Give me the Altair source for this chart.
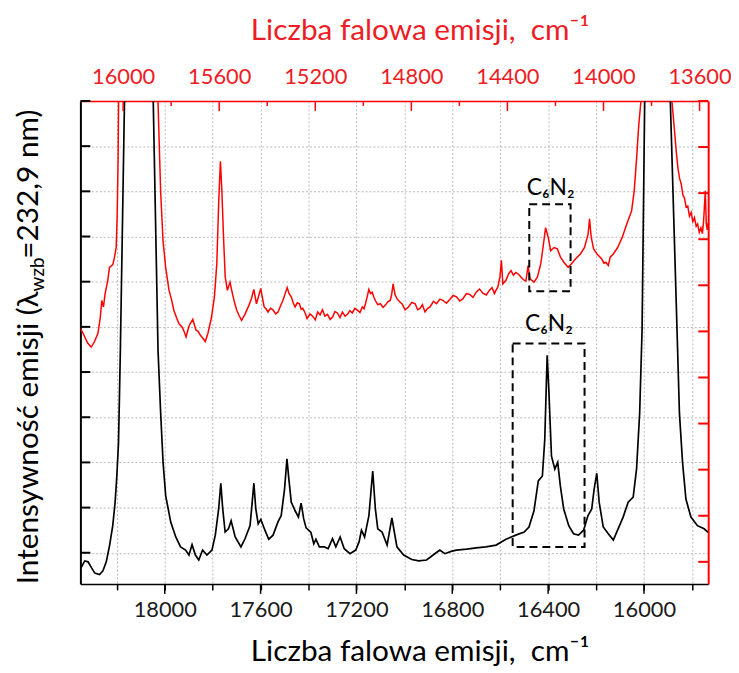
import altair as alt
import pandas as pd

# ---------------- data ----------------
# black spectrum, bottom axis (emission wavenumber, cm-1) vs intensity (left scale)
black_points = [
    (18350, -0.34), (18334, -0.18), (18320, -0.20), (18306, -0.33), (18292, -0.45), (18272, -0.48),
    (18258, -0.40), (18244, -0.20), (18230, 0.17), (18217, 0.60), (18207, 1.12), (18200, 1.70),
    (18193, 2.43), (18189, 3.46), (18185, 4.55), (18168, 10.0), (18110, 25.0), (18048, 10.0),
    (18028, 4.48), (18017, 3.09), (18007, 2.00), (17996, 1.26), (17975, 0.68), (17954, 0.35),
    (17934, 0.13), (17913, 0.06), (17899, -0.05), (17886, 0.18), (17872, -0.05), (17858, -0.16),
    (17842, 0.06), (17824, -0.05), (17803, 0.06), (17789, 0.39), (17775, 0.97), (17766, 1.54),
    (17758, 0.97), (17748, 0.46), (17734, 0.53), (17723, 0.71), (17706, 0.35), (17682, 0.13),
    (17665, 0.31), (17644, 0.60), (17635, 1.12), (17628, 1.54), (17620, 0.97), (17610, 0.64),
    (17599, 0.74), (17582, 0.50), (17566, 0.30), (17548, 0.39), (17527, 0.69), (17514, 0.82),
    (17500, 1.41), (17490, 2.08), (17482, 1.63), (17472, 1.12), (17456, 0.93), (17442, 0.79),
    (17431, 1.10), (17420, 0.75), (17410, 0.55), (17390, 0.45), (17378, 0.20), (17369, 0.30),
    (17355, 0.13), (17334, 0.13), (17318, 0.09), (17300, 0.31), (17286, 0.13), (17268, 0.35),
    (17251, 0.09), (17227, -0.02), (17203, 0.06), (17189, 0.24), (17179, 0.50), (17166, 0.35),
    (17148, 0.82), (17132, 1.81), (17121, 0.97), (17111, 0.53), (17093, 0.46), (17072, 0.17),
    (17052, 0.77), (17031, 0.13), (17003, -0.05), (16969, -0.15), (16940, -0.18), (16907, -0.16),
    (16880, -0.05), (16852, 0.06), (16831, -0.02), (16805, 0.03), (16783, 0.06), (16740, 0.08),
    (16700, 0.11), (16660, 0.13), (16617, 0.17), (16576, 0.30), (16535, 0.39), (16500, 0.46),
    (16480, 0.57), (16459, 0.93), (16441, 1.59), (16424, 1.70), (16414, 2.51), (16404, 4.37),
    (16397, 3.60), (16386, 2.14), (16372, 1.85), (16360, 2.00), (16349, 1.48), (16335, 0.97),
    (16314, 0.60), (16294, 0.42), (16273, 0.39), (16252, 0.50), (16234, 0.82), (16218, 0.97),
    (16208, 1.41), (16197, 1.76), (16187, 1.12), (16170, 0.57), (16149, 0.42), (16128, 0.28),
    (16108, 0.53), (16087, 0.79), (16066, 1.12), (16045, 1.23), (16031, 1.85), (16018, 3.09),
    (16008, 4.92), (15997, 10.0), (15943, 25.0), (15890, 10.0), (15862, 4.92), (15852, 3.09),
    (15839, 2.00), (15825, 1.19), (15804, 0.79), (15777, 0.60), (15749, 0.53), (15732, 0.45),
]

# red spectrum, top axis (emission wavenumber, cm-1) vs intensity (right scale)
red_points = [
    (16178, 5.06), (16167, 4.96), (16157, 4.85), (16147, 4.74), (16133, 4.66), (16119, 4.78),
    (16105, 4.96), (16095, 5.31), (16089, 5.67), (16082, 5.53), (16075, 5.82), (16064, 6.11),
    (16057, 6.39), (16043, 6.45), (16036, 6.61), (16029, 6.82), (16025, 7.47), (16021, 8.76),
    (16019, 10.0), (15933, 30.0), (15855, 10.0), (15844, 8.05), (15834, 6.97), (15823, 6.39),
    (15809, 5.89), (15799, 5.70), (15789, 5.46), (15778, 5.30), (15768, 5.17), (15754, 5.09),
    (15745, 4.98), (15738, 4.88), (15731, 5.02), (15724, 5.14), (15710, 5.26), (15697, 5.03),
    (15688, 5.00), (15679, 4.92), (15668, 4.85), (15658, 4.78), (15647, 4.96), (15633, 5.28),
    (15620, 5.75), (15610, 6.47), (15602, 7.83), (15595, 8.69), (15589, 8.05), (15582, 7.04),
    (15575, 6.18), (15566, 5.89), (15555, 6.07), (15545, 5.82), (15536, 5.62), (15527, 5.46),
    (15517, 5.34), (15507, 5.24), (15493, 5.37), (15476, 5.57), (15466, 5.71), (15456, 5.91),
    (15445, 5.60), (15427, 5.93), (15413, 5.53), (15405, 5.49), (15397, 5.42), (15386, 5.50),
    (15376, 5.47), (15365, 5.38), (15355, 5.42), (15345, 5.55), (15335, 5.67), (15317, 5.95),
    (15309, 5.82), (15300, 5.75), (15292, 5.62), (15284, 5.53), (15275, 5.62), (15266, 5.60),
    (15259, 5.48), (15252, 5.50), (15243, 5.41), (15234, 5.28), (15222, 5.38), (15211, 5.33),
    (15200, 5.25), (15190, 5.42), (15180, 5.36), (15170, 5.47), (15160, 5.33), (15149, 5.37),
    (15138, 5.26), (15128, 5.31), (15118, 5.43), (15108, 5.40), (15097, 5.30), (15087, 5.42),
    (15076, 5.33), (15066, 5.37), (15056, 5.45), (15046, 5.40), (15035, 5.50), (15025, 5.46),
    (15014, 5.41), (15004, 5.53), (14997, 5.49), (14991, 5.60), (14984, 5.75), (14977, 5.91),
    (14970, 5.82), (14963, 5.85), (14956, 5.74), (14950, 5.67), (14940, 5.58), (14929, 5.60),
    (14918, 5.52), (14908, 5.57), (14898, 5.64), (14888, 5.67), (14882, 5.80), (14876, 6.03),
    (14868, 5.80), (14860, 5.71), (14850, 5.65), (14839, 5.60), (14826, 5.47), (14812, 5.53),
    (14798, 5.63), (14784, 5.60), (14774, 5.47), (14764, 5.50), (14754, 5.58), (14743, 5.42),
    (14732, 5.50), (14722, 5.53), (14708, 5.65), (14695, 5.60), (14681, 5.70), (14667, 5.67),
    (14654, 5.61), (14640, 5.69), (14626, 5.78), (14612, 5.75), (14598, 5.66), (14585, 5.71),
    (14571, 5.82), (14557, 5.80), (14543, 5.74), (14530, 5.85), (14516, 5.92), (14502, 5.83),
    (14488, 5.79), (14475, 5.89), (14464, 5.95), (14454, 5.82), (14447, 5.90), (14440, 5.96),
    (14431, 6.18), (14425, 6.54), (14419, 6.03), (14406, 6.11), (14395, 6.25), (14385, 6.32),
    (14375, 6.22), (14365, 6.28), (14354, 6.24), (14344, 6.18), (14333, 6.12), (14323, 6.09),
    (14314, 6.43), (14306, 6.14), (14289, 6.07), (14275, 6.18), (14261, 6.47), (14248, 6.97),
    (14241, 7.25), (14230, 7.04), (14220, 6.75), (14206, 6.82), (14192, 6.79), (14179, 6.61),
    (14165, 6.50), (14147, 6.39), (14133, 6.47), (14117, 6.57), (14096, 6.68), (14079, 6.82),
    (14064, 7.11), (14058, 7.44), (14051, 7.04), (14041, 6.79), (14027, 6.68), (14007, 6.57),
    (13998, 6.48), (13990, 6.50), (13980, 6.43), (13972, 6.61), (13959, 6.68), (13941, 6.82),
    (13922, 7.04), (13903, 7.33), (13883, 7.61), (13872, 8.05), (13862, 8.76), (13853, 9.48),
    (13844, 10.0), (13782, 25.0), (13715, 10.0), (13704, 9.34), (13697, 8.90), (13690, 8.55),
    (13683, 8.32), (13676, 8.19), (13669, 7.95), (13663, 7.90), (13656, 7.70), (13649, 7.72),
    (13642, 7.50), (13635, 7.58), (13628, 7.38), (13621, 7.47), (13614, 7.28), (13608, 7.33),
    (13601, 7.15), (13594, 7.25), (13588, 7.12), (13583, 7.40), (13576, 8.05), (13572, 7.33),
    (13568, 7.20), (13564, 7.36),
]

# axis ticks / labels
bottom_tick_values = [15800, 16000, 16200, 16400, 16600, 16800, 17000, 17200, 17400, 17600, 17800, 18000, 18200]
bottom_major_ticks = [16000, 16400, 16800, 17200, 17600, 18000]
top_major_ticks = [13600, 14000, 14400, 14800, 15200, 15600, 16000]
top_minor_ticks = [13800, 14200, 14600, 15000, 15400, 15800]
left_ticks = [0, 1, 2, 3, 4, 5, 6, 7, 8, 9, 10]
right_ticks = [0, 1, 2, 3, 4, 5, 6, 7, 8, 9, 10]

# annotation boxes (C6N2)
lower_box = {"x1": [16548], "x2": [16248], "y1": [0.13], "y2": [4.63]}
lower_label = {"x": [16397], "y": [5.07], "t": ["C₆N₂"]}
upper_box = {"x1": [14309], "x2": [14137], "y1": [5.87], "y2": [7.76]}
upper_label = {"x": [14220], "y": [8.12], "t": ["C₆N₂"]}

x_title = "Liczba falowa emisji,\u00a0 cm⁻¹"
y_title_parts = ["Intensywność emisji (λ", "wzb", "=232,9 nm)"]

# ---------------- chart ----------------
W, H = 633, 487
FONT = "Lato"
RED = "#ff0000"
RED_TXT = "#ee1c24"
GRID = "#b8b8b8"

black_df = pd.DataFrame(black_points, columns=["cm", "I"])
red_df = pd.DataFrame(red_points, columns=["cm", "I"])


def bx():
    return alt.Scale(domain=[15732, 18352], reverse=True, nice=False, zero=False)


def by():
    return alt.Scale(domain=[-0.69, 10], nice=False, zero=False)


def rx():
    return alt.Scale(domain=[13564, 16178], reverse=True, nice=False, zero=False)


def ry():
    return alt.Scale(domain=[-0.48, 10], nice=False, zero=False)


# --- axes carried by the two spectrum layers ---
black_line = alt.Chart(black_df).mark_line(color="black", strokeWidth=1.7, clip=True).encode(
    x=alt.X("cm:Q", scale=bx(), axis=alt.Axis(
        orient="bottom", values=bottom_tick_values, format="d",
        labelExpr="datum.value % 400 === 0 ? datum.label : ''", labelOverlap=False, labelFlush=False,
        tickSize=6, tickColor="black", tickWidth=1.5,
        domainColor="black", domainWidth=1.5,
        grid=True, gridColor=GRID, gridDash=[2, 2], gridWidth=1,
        labelFont=FONT, labelFontSize=22, labelColor="#1a1a1a", labelPadding=10,
        title=x_title, titleFont=FONT, titleFontSize=30, titleFontWeight="normal",
        titleColor="black", titlePadding=16, titleX=342)),
    y=alt.Y("I:Q", scale=by(), axis=alt.Axis(
        orient="left", values=left_ticks, labels=False, ticks=False,
        domainColor="black", domainWidth=2,
        grid=True, gridColor=GRID, gridDash=[2, 2], gridWidth=1, title=None)),
)

red_line = alt.Chart(red_df).mark_line(color=RED, strokeWidth=1.5, clip=True).encode(
    x=alt.X("cm:Q", scale=rx(), axis=alt.Axis(
        orient="top", values=top_major_ticks, format="d", ticks=False,
        labelOverlap=False, labelFlush=False,
        domainColor=RED, domainWidth=1.5, grid=False,
        labelFont=FONT, labelFontSize=22, labelColor=RED_TXT, labelPadding=13,
        title=x_title, titleFont=FONT, titleFontSize=30, titleFontWeight="normal",
        titleColor=RED_TXT, titlePadding=20, titleX=342)),
    y=alt.Y("I:Q", scale=ry(), axis=alt.Axis(
        orient="right", values=right_ticks, labels=False, ticks=False,
        domainColor=RED, domainWidth=2, grid=False, title=None)),
)

# --- tick marks drawn inside / extra-long ticks ---
bottom_major = alt.Chart(pd.DataFrame({"v": bottom_major_ticks})).mark_rule(color="black", strokeWidth=1.5).encode(
    x=alt.X("v:Q", scale=bx(), axis=None), y=alt.value(H), y2=alt.value(H + 10))

left_tick_marks = alt.Chart(pd.DataFrame({"v": left_ticks})).mark_rule(color="black", strokeWidth=2).encode(
    y=alt.Y("v:Q", scale=by(), axis=None), x=alt.value(0), x2=alt.value(10))

top_major = alt.Chart(pd.DataFrame({"v": top_major_ticks})).mark_rule(color=RED, strokeWidth=1.5).encode(
    x=alt.X("v:Q", scale=rx(), axis=None), y=alt.value(0), y2=alt.value(10))
top_minor = alt.Chart(pd.DataFrame({"v": top_minor_ticks})).mark_rule(color=RED, strokeWidth=1.5).encode(
    x=alt.X("v:Q", scale=rx(), axis=None), y=alt.value(0), y2=alt.value(5))
right_tick_marks = alt.Chart(pd.DataFrame({"v": right_ticks})).mark_rule(color=RED, strokeWidth=2).encode(
    y=alt.Y("v:Q", scale=ry(), axis=None), x=alt.value(W - 10), x2=alt.value(W))

# --- annotations ---
lbox = alt.Chart(pd.DataFrame(lower_box)).mark_rect(
    filled=False, stroke="black", strokeWidth=2, strokeDash=[8, 5]).encode(
    x=alt.X("x1:Q", scale=bx(), axis=None), x2="x2:Q",
    y=alt.Y("y1:Q", scale=by(), axis=None), y2="y2:Q")
llab = alt.Chart(pd.DataFrame(lower_label)).mark_text(
    font=FONT, fontSize=23, color="black", baseline="middle").encode(
    x=alt.X("x:Q", scale=bx(), axis=None), y=alt.Y("y:Q", scale=by(), axis=None), text="t:N")

ubox = alt.Chart(pd.DataFrame(upper_box)).mark_rect(
    filled=False, stroke="black", strokeWidth=2, strokeDash=[8, 5]).encode(
    x=alt.X("x1:Q", scale=rx(), axis=None), x2="x2:Q",
    y=alt.Y("y1:Q", scale=ry(), axis=None), y2="y2:Q")
ulab = alt.Chart(pd.DataFrame(upper_label)).mark_text(
    font=FONT, fontSize=23, color="black", baseline="middle").encode(
    x=alt.X("x:Q", scale=rx(), axis=None), y=alt.Y("y:Q", scale=ry(), axis=None), text="t:N")

# --- y title with subscript (three text pieces) ---
yt1 = alt.Chart(pd.DataFrame({"t": [y_title_parts[0]]})).mark_text(
    angle=270, align="right", baseline="middle", font=FONT, fontSize=30, color="black").encode(
    x=alt.value(-52), y=alt.value(192), text="t:N")
yt2 = alt.Chart(pd.DataFrame({"t": [y_title_parts[1]]})).mark_text(
    angle=270, align="left", baseline="middle", font=FONT, fontSize=19, color="black").encode(
    x=alt.value(-43), y=alt.value(192), text="t:N")
yt3 = alt.Chart(pd.DataFrame({"t": [y_title_parts[2]]})).mark_text(
    angle=270, align="left", baseline="middle", font=FONT, fontSize=30, color="black").encode(
    x=alt.value(-52), y=alt.value(159), text="t:N")

chart = alt.layer(
    red_line, black_line,
    bottom_major, left_tick_marks, top_major, top_minor, right_tick_marks,
    lbox, llab, ubox, ulab, yt1, yt2, yt3,
).resolve_scale(
    x="independent", y="independent"
).properties(
    width=W, height=H,
    autosize=alt.AutoSizeParams(type="none"),
    padding={"left": 73, "top": 91, "right": 23, "bottom": 80},
    background="white",
).configure_view(stroke=None)

chart.save("out.html", embed_options={"renderer": "svg", "actions": False})
